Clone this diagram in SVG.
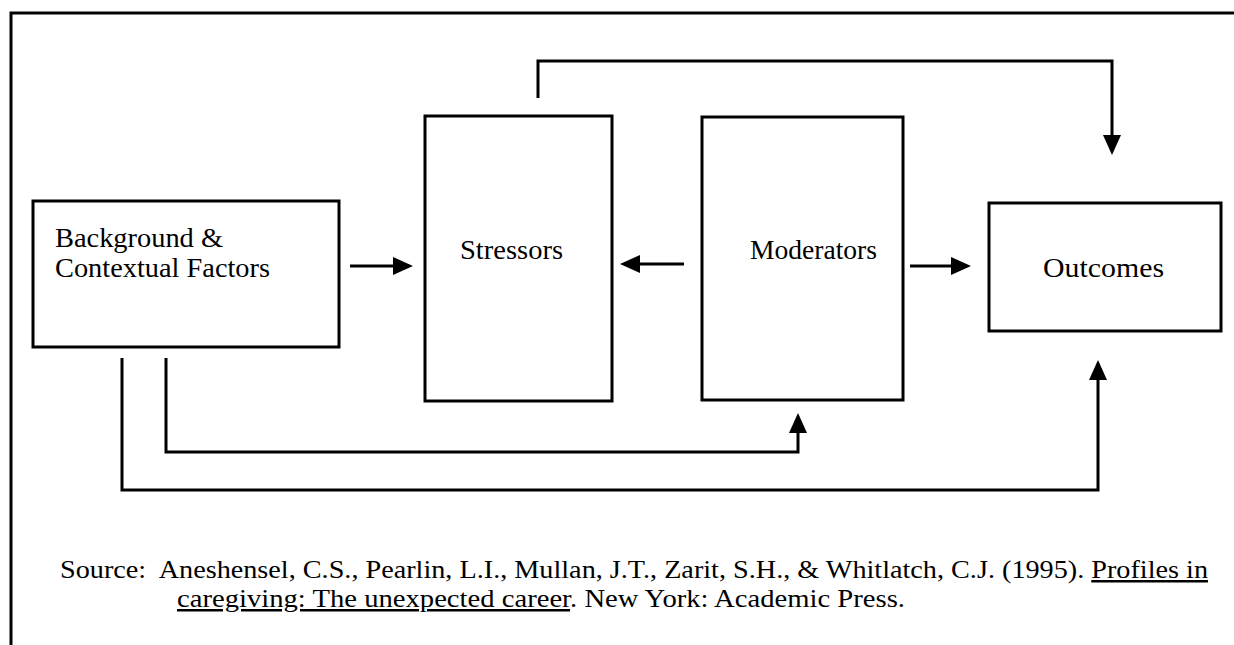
<svg xmlns="http://www.w3.org/2000/svg" width="1234" height="645" viewBox="0 0 1234 645">
<style>
.box{fill:#fff;stroke:#000;stroke-width:3}
.con{fill:none;stroke:#000;stroke-width:3}
.lbl{font-family:"Liberation Serif","Times New Roman",serif;font-size:28px;fill:#000}
.src{font-family:"Liberation Serif","Times New Roman",serif;font-size:25px;fill:#000}
</style>
<defs>
<marker id="arr" viewBox="0 0 20 18" refX="16" refY="9" markerWidth="20" markerHeight="18" markerUnits="userSpaceOnUse" orient="auto">
<path d="M0,0 L20,9 L0,18 z" fill="#000"/>
</marker>
</defs>
<rect width="1234" height="645" fill="#fff"/>
<g id="frame">
<path d="M11,645 V13 H1234" fill="none" stroke="#000" stroke-width="3"/>
</g>
<g id="background">
<rect class="box" x="33" y="201" width="306" height="146"/>
<text class="lbl" x="55" y="247" textLength="168" lengthAdjust="spacingAndGlyphs">Background &amp;</text>
<text class="lbl" x="55" y="277" textLength="215" lengthAdjust="spacingAndGlyphs">Contextual Factors</text>
</g>
<g id="stressors">
<rect class="box" x="425" y="116" width="187" height="285"/>
<text class="lbl" x="460" y="259" textLength="103" lengthAdjust="spacingAndGlyphs">Stressors</text>
</g>
<g id="moderators">
<rect class="box" x="702" y="117" width="201" height="283"/>
<text class="lbl" x="750" y="259" textLength="127" lengthAdjust="spacingAndGlyphs">Moderators</text>
</g>
<g id="outcomes">
<rect class="box" x="989" y="203" width="232" height="128"/>
<text class="lbl" x="1043" y="277" textLength="121" lengthAdjust="spacingAndGlyphs">Outcomes</text>
</g>
<g id="connectors">
<path class="con" d="M350,266 H409" marker-end="url(#arr)"/>
<path class="con" d="M684,264 H624" marker-end="url(#arr)"/>
<path class="con" d="M910,266 H967" marker-end="url(#arr)"/>
<path class="con" d="M538,98 V61 H1112 V151" marker-end="url(#arr)"/>
<path class="con" d="M166,358 V452 H798 V417" marker-end="url(#arr)"/>
<path class="con" d="M122,358 V490 H1098 V364" marker-end="url(#arr)"/>
</g>
<g id="source">
<text class="src" x="60" y="578" textLength="1148" lengthAdjust="spacingAndGlyphs" xml:space="preserve">Source:  Aneshensel, C.S., Pearlin, L.I., Mullan, J.T., Zarit, S.H., &amp; Whitlatch, C.J. (1995). <tspan text-decoration="underline">Profiles in</tspan></text>
<text class="src" x="177" y="607" textLength="728" lengthAdjust="spacingAndGlyphs"><tspan text-decoration="underline">caregiving: The unexpected career</tspan>. New York: Academic Press.</text>
</g>
</svg>
